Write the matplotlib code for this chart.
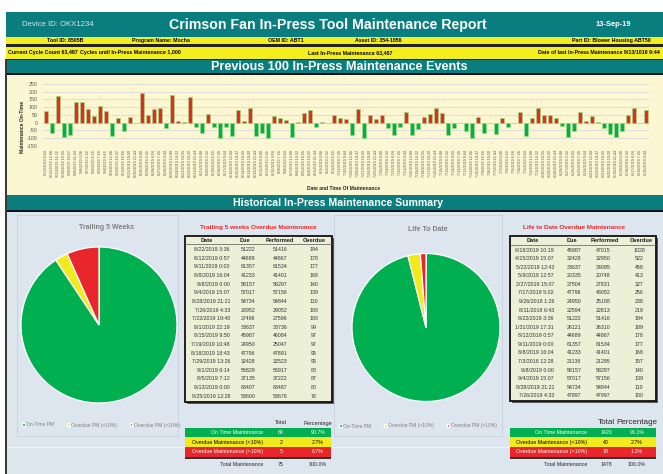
import matplotlib
matplotlib.use("Agg")
import matplotlib.pyplot as plt
from matplotlib.patches import Rectangle

W, H, DPI = 663, 474, 100

NARROW = ['Liberation Sans Narrow', 'Liberation Sans', 'DejaVu Sans']
SANS = ['Liberation Sans', 'DejaVu Sans']

TEAL = '#0a7e7e'
YELLOW = '#f4ee1e'
CREAM = '#fcf7d2'
PANEL = '#dde6ef'
GREEN = '#00b050'
RED = '#e8262b'
PIE_YELLOW = '#f3ea1c'
TABLE_FILL = '#ebf0d6'
GRAY_TXT = '#595959'

# ---- previous 100 maintenance events ----
event_labels = [
    '9/13/2019 9:44', '9/12/2019 12:08', '9/11/2019 14:32', '9/10/2019 16:56', '9/9/2019 19:20',
    '9/8/2019 21:44', '9/8/2019 0:08', '9/7/2019 2:32', '9/6/2019 4:56', '9/5/2019 7:20',
    '9/4/2019 9:44', '9/3/2019 12:08', '9/2/2019 14:32', '9/1/2019 16:56', '8/31/2019 19:20',
    '8/30/2019 21:44', '8/30/2019 0:08', '8/29/2019 2:32', '8/28/2019 4:56', '8/27/2019 7:20',
    '8/26/2019 9:44', '8/25/2019 12:08', '8/24/2019 14:32', '8/23/2019 16:56', '8/22/2019 19:20',
    '8/21/2019 21:44', '8/21/2019 0:08', '8/20/2019 2:32', '8/19/2019 4:56', '8/18/2019 7:20',
    '8/17/2019 9:44', '8/16/2019 12:08', '8/15/2019 14:32', '8/14/2019 16:56', '8/13/2019 19:20',
    '8/12/2019 21:44', '8/12/2019 0:08', '8/11/2019 2:32', '8/10/2019 4:56', '8/9/2019 7:20',
    '8/8/2019 9:44', '8/7/2019 12:08', '8/6/2019 14:32', '8/5/2019 16:56', '8/4/2019 19:20',
    '8/3/2019 21:44', '8/3/2019 0:08', '8/2/2019 2:32', '8/1/2019 4:56', '7/31/2019 7:20',
    '7/30/2019 9:44', '7/29/2019 12:08', '7/28/2019 14:32', '7/27/2019 16:56', '7/26/2019 19:20',
    '7/25/2019 21:44', '7/25/2019 0:08', '7/24/2019 2:32', '7/23/2019 4:56', '7/22/2019 7:20',
    '7/21/2019 9:44', '7/20/2019 12:08', '7/19/2019 14:32', '7/18/2019 16:56', '7/17/2019 19:20',
    '7/16/2019 21:44', '7/16/2019 0:08', '7/15/2019 2:32', '7/14/2019 4:56', '7/13/2019 7:20',
    '7/12/2019 9:44', '7/11/2019 12:08', '7/10/2019 14:32', '7/9/2019 16:56', '7/8/2019 19:20',
    '7/7/2019 21:44', '7/7/2019 0:08', '7/6/2019 2:32', '7/5/2019 4:56', '7/4/2019 7:20',
    '7/3/2019 9:44', '7/2/2019 12:08', '7/1/2019 14:32', '6/30/2019 16:56', '6/29/2019 19:20',
    '6/28/2019 21:44', '6/28/2019 0:08', '6/27/2019 2:32', '6/26/2019 4:56', '6/25/2019 7:20',
    '6/24/2019 9:44', '6/23/2019 12:08', '6/22/2019 14:32', '6/21/2019 16:56', '6/20/2019 19:20',
    '6/19/2019 21:44', '6/19/2019 0:08', '6/18/2019 2:32', '6/17/2019 4:56', '6/16/2019 7:20',
    '6/15/2019 9:44',
]
event_values = [
    78, -65, 175, -95, -82, 136, 136, 86, 43, 108,
    75, -88, 32, -56, 39, -5, 192, 50, 90, 93,
    -37, 177, 11, 3, 166, -26, -65, 56, -30, -103,
    -30, -90, 84, 11, 95, -86, -69, -103, 43, 32,
    17, -95, 4, 65, 82, -28, 3, -5, 52, 30,
    26, -82, 90, -103, 50, 24, 50, -37, -80, -26,
    67, -82, -39, 39, 58, 97, 65, -82, -37, -2,
    -56, -103, 34, -65, -3, -73, 28, -32, -5, 67,
    -86, 32, 97, 50, 50, 32, -22, -95, -56, 71,
    13, 45, 1, -37, -73, -95, -54, 50, 95, -3,
    84,
]
y_ticks = [-150, -100, -50, 0, 50, 100, 150, 200, 250]

# ---- trailing 5 weeks overdue table ----
trail_dates = ['8/22/2019 3:36', '8/12/2019 0:57', '9/11/2019 0:00', '8/8/2019 16:04', '9/8/2019 0:00',
               '9/4/2019 15:07', '8/28/2019 21:21', '7/26/2019 4:33', '7/22/2019 19:40', '8/1/2019 22:19',
               '8/15/2019 9:50', '7/19/2019 10:48', '8/18/2019 18:43', '7/29/2019 13:26', '9/1/2019 6:14',
               '8/5/2019 7:12', '9/13/2019 0:00', '8/25/2019 12:28']
trail_due = [51222, 44689, 61357, 41233, 58157, 57017, 54734, 28952, 27496, 33637,
             45987, 24950, 47796, 32428, 56829, 37135, 63407, 53600]
trail_performed = [51416, 44867, 61534, 41401, 58297, 57156, 54844, 29052, 27596, 33736,
                   46084, 25047, 47891, 32523, 56917, 37222, 63487, 53678]
trail_overdue = [194, 178, 177, 168, 140, 139, 110, 100, 100, 99, 97, 97, 95, 95, 88, 87, 80, 78]

# ---- life to date overdue table ----
ltd_dates = ['6/18/2019 10:19', '4/15/2019 15:07', '5/22/2019 12:43', '5/9/2018 12:57', '2/27/2019 15:07',
             '7/17/2019 5:02', '9/26/2018 1:26', '8/11/2018 6:43', '8/22/2019 3:36', '1/31/2019 17:31',
             '8/12/2019 0:57', '9/11/2019 0:00', '8/8/2019 16:04', '7/3/2018 12:28', '9/8/2019 0:00',
             '9/4/2019 15:07', '8/28/2019 21:21', '7/26/2019 4:33']
ltd_due = [45987, 32428, 33637, 20335, 27504, 47796, 24950, 22594, 51222, 26121,
           44689, 61357, 41233, 21136, 58157, 57017, 54734, 47897]
ltd_performed = [47015, 32950, 34095, 20748, 27831, 48052, 25188, 22813, 51416, 26310,
                 44867, 61534, 41401, 21295, 58297, 57156, 54844, 47997]
ltd_overdue = [1028, 522, 458, 413, 327, 256, 238, 219, 194, 189, 178, 177, 168, 157, 140, 139, 110, 100]

# ---- summary counts ----
pie_labels = ['On-Time PM', 'Overdue PM (<10%)', 'Overdue PM (>10%)']
summary_labels = ['On Time Maintenance', 'Overdue Maintenance (<10%)', 'Overdue Maintenance (>10%)']
trail_counts = [68, 2, 5]
ltd_counts = [1420, 40, 18]
status_colors = [GREEN, PIE_YELLOW, RED]
status_text = ['white', 'black', 'white']

fig = plt.figure(figsize=(W / DPI, H / DPI), dpi=DPI)
fig.patch.set_facecolor('white')
bg = fig.add_axes([0, 0, 1, 1])
bg.set_xlim(0, W)
bg.set_ylim(H, 0)
bg.axis('off')


def frac(x0, y0, w, h):
    return [x0 / W, 1 - (y0 + h) / H, w / W, h / H]


def rect(x0, y0, x1, y1, fc, ec='none', lw=0, z=1):
    bg.add_patch(Rectangle((x0, y0), x1 - x0, y1 - y0, facecolor=fc,
                           edgecolor=ec, linewidth=lw, zorder=z))


def txt(x, y, s, size, color='black', weight='normal', ha='center', family=SANS, **kw):
    bg.text(x, y, s, fontsize=size, color=color, fontweight=weight, ha=ha,
            va='center', family=family, zorder=5, **kw)


# ---- page bands ----
rect(6, 12, W, 36.8, TEAL)
rect(6, 36.8, W, 44.4, YELLOW)
rect(6, 44.4, W, 46.5, '#222222')
rect(6, 46.5, W, 58.5, YELLOW)
rect(6, 58.5, W, 60, '#222222')
rect(6, 60, W, 73, TEAL)
rect(6, 73, W, 75, '#111111')
rect(6, 75, W, 195, CREAM)
rect(6, 195, W, 210, TEAL)
rect(6, 210, W, 212, '#111111')
rect(6, 212, W, H, PANEL)
rect(5, 58.5, 7, H, '#3a3a3a', z=3)

# header texts
txt(22, 24.5, 'Device ID: OKX1234', 5.6, color='#d6e6e6', ha='left', family=NARROW)
txt(328, 24.5, 'Crimson Fan In-Press Tool Maintenance Report', 10.2, color='white',
    weight='bold', family=NARROW)
txt(613, 24.5, '13-Sep-19', 5.4, color='white', weight='bold', family=NARROW)

txt(65, 40.8, 'Tool ID: 8505B', 3.8, weight='bold', family=NARROW)
txt(161, 40.8, 'Program Name: Mocha', 3.8, weight='bold', family=NARROW)
txt(286, 40.8, 'OEM ID: ABT1', 3.8, weight='bold', family=NARROW)
txt(378, 40.8, 'Asset ID: 354-1856', 3.8, weight='bold', family=NARROW)
txt(651, 40.8, 'Part ID: Blower Housing ABT50', 3.8, weight='bold', ha='right', family=NARROW)

txt(8, 52.5, 'Current Cycle Count 63,487', 3.8, weight='bold', ha='left', family=NARROW)
txt(80, 52.5, 'Cycles until In-Press Maintenance 1,000', 3.8, weight='bold', ha='left', family=NARROW)
txt(350, 52.5, 'Last In-Press Maintenance 63,487', 3.8, weight='bold', family=NARROW)
txt(660, 52.5, 'Date of last In-Press Maintenance 9/13/1019 9:44', 3.8, weight='bold',
    ha='right', family=NARROW)

txt(339, 67, 'Previous 100 In-Press Maintenance Events', 9.1, color='white', weight='bold')
txt(338, 203, 'Historical In-Press Maintenance Summary', 7.6, color='white', weight='bold',
    family=NARROW)

# ---- bar chart of maintenance events ----
ax = fig.add_axes(frac(43, 84, 606, 61.7))
ax.set_facecolor('none')
xpos = list(range(len(event_values)))
bar_colors = [RED if v > 0 else GREEN for v in event_values]
ax.bar(xpos, event_values, width=0.8, color=bar_colors, edgecolor='#9fdc7c',
       linewidth=0.5, zorder=3)
ax.set_xlim(-0.5, len(event_values) - 0.5)
ax.set_ylim(-150, 250)
ax.set_yticks(y_ticks)
ax.set_yticklabels([str(t) for t in y_ticks], fontsize=3.8, color=GRAY_TXT, family=SANS)
ax.set_xticks(xpos)
ax.set_xticklabels(event_labels, rotation=90, fontsize=2.7, color=GRAY_TXT, family=SANS)
ax.tick_params(axis='both', length=0)
ax.tick_params(axis='y', pad=4)
ax.tick_params(axis='x', pad=3)
ax.grid(axis='y', color='#d9d9d9', linewidth=0.6, zorder=0)
for s in ax.spines.values():
    s.set_visible(False)
txt(22, 127, 'Maintenance On-Time', 3.6, color='#262626', weight='bold', rotation=90)
txt(344, 189, 'Date and Time Of Maintenance', 3.6, color='#262626', weight='bold')

# ---- pie panels ----
rect(17, 215, 178, 436, 'none', ec='#c8d1db', lw=0.6, z=2)
rect(334, 215, 502, 436, 'none', ec='#c8d1db', lw=0.6, z=2)
bg.plot([7, 185], [446.5, 446.5], color='#eef2f7', lw=0.8, zorder=2)
bg.plot([332, 510], [446.5, 446.5], color='#eef2f7', lw=0.8, zorder=2)


def draw_pie(cx, cy, r, counts, title, title_x, title_y, legend_cx, legend_y):
    pax = fig.add_axes(frac(cx - r, cy - r, 2 * r, 2 * r))
    pax.set_facecolor('none')
    wedges, _ = pax.pie(counts, colors=status_colors, startangle=90, counterclock=False,
                        wedgeprops=dict(edgecolor='white', linewidth=0.9))
    pax.set_xlim(-1.0, 1.0)
    pax.set_ylim(-1.0, 1.0)
    pax.set_aspect('equal')
    pax.axis('off')
    txt(title_x, title_y, title, 5.0, color='#7f7f7f', weight='bold')
    fig.legend(wedges, pie_labels, loc='center',
               bbox_to_anchor=(legend_cx / W, 1 - legend_y / H), ncol=3, frameon=False,
               prop=dict(family=SANS, size=3.6), labelcolor='#7f7f7f',
               handlelength=0.45, handleheight=0.45, handletextpad=0.3, columnspacing=2.6)


draw_pie(99, 325, 78, trail_counts, 'Trailing 5 Weeks', 107, 227.5, 101, 425)
draw_pie(426, 327.5, 74, ltd_counts, 'Life To Date', 428, 229, 418, 426)


# ---- overdue tables ----
def draw_table(x0, x1, y0, y1, title, title_x, dates, due, perf, over, cols, heads):
    txt(title_x, 227, title, 4.6, color=RED, weight='bold')
    rect(x0 + 2, y0 + 2, x1 + 2, y1 + 2, '#5a5a5a', z=1.5)
    rect(x0, y0, x1, y1, TABLE_FILL, ec='#111111', lw=1.3, z=2)
    bg.plot([x0, x1], [y0 + 8.5, y0 + 8.5], color='#555555', lw=0.5, zorder=3)
    for hx, h in zip(heads, ['Date', 'Due', 'Performed', 'Overdue']):
        txt(hx, y0 + 4.6, h, 4.1, color='#1a1a1a', weight='bold')
    n = len(dates)
    step = (y1 - y0 - 19.5) / (n - 1)
    for i in range(n):
        y = y0 + 14.2 + i * step
        txt(cols[0], y, dates[i], 3.8, color='#333333', ha='right')
        txt(cols[1], y, str(due[i]), 3.8, color='#333333')
        txt(cols[2], y, str(perf[i]), 3.8, color='#333333')
        txt(cols[3], y, str(over[i]), 3.8, color='#333333')


draw_table(185, 332, 235.5, 401.5, 'Trailing 5 weeks Overdue Maintenance', 258,
           trail_dates, trail_due, trail_performed, trail_overdue,
           [230, 248, 280, 314], [207, 245, 280, 314])
draw_table(510, 656, 236, 401, 'Life to Date Overdue Maintenance', 574,
           ltd_dates, ltd_due, ltd_performed, ltd_overdue,
           [554, 574, 603, 639], [533, 572, 605, 641])


# ---- summary tables ----
def draw_summary(x0, x1, label_x, tot_x, pct_x, head_y, head_size, counts):
    total = sum(counts)
    txt(tot_x, head_y, 'Total', head_size, color='#262626')
    txt(pct_x, head_y, 'Percentage', head_size, color='#262626')
    rect(x0, 456.5, x1, 458.5, '#333333', z=2)
    for i, (lab, c) in enumerate(zip(summary_labels, counts)):
        ya, yb = 427.7 + i * 9.7, 427.7 + (i + 1) * 9.7
        rect(x0, ya, x1, yb, status_colors[i], z=2)
        ym = (ya + yb) / 2
        txt(label_x, ym, lab, 3.8, color=status_text[i], ha='right')
        txt(tot_x, ym, str(c), 3.8, color=status_text[i])
        txt(pct_x, ym, f'{100 * c / total:.1f}%', 3.8, color=status_text[i])
    txt(label_x, 464.5, 'Total Maintenance', 3.8, color='#262626', ha='right')
    txt(tot_x, 464.5, str(total), 3.8, color='#262626')
    txt(pct_x, 464.5, '100.0%', 3.8, color='#262626')


draw_summary(185, 331, 263, 281, 318, 423, 4.1, trail_counts)
draw_summary(510, 656, 587, 606, 637, 422, 5.8, ltd_counts)

fig.savefig('out.png', dpi=DPI, facecolor='white')
